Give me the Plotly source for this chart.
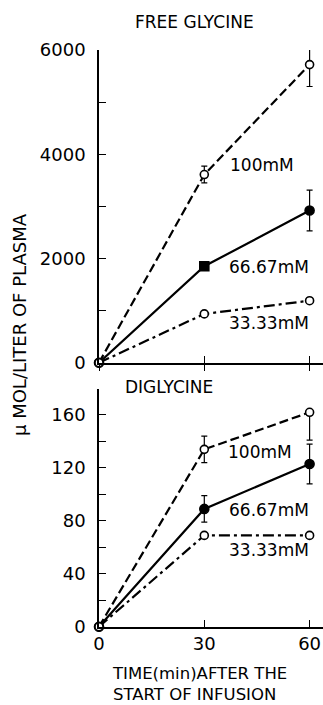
import plotly.graph_objects as go

# ---- data ----
time_min = [0, 30, 60]

free_100 = [0, 3610, 5720]
free_100_err = [0, 160, 420]
free_667 = [0, 1850, 2920]
free_667_err = [0, 0, 390]
free_333 = [0, 936, 1190]

di_100 = [0, 134, 162]
di_100_err_plus = [0, 10, 0]
di_100_err_minus = [0, 10, 21]
di_667 = [0, 89, 123]
di_667_err = [0, 10, 15]
di_333 = [0, 69, 69]

series_labels = ["100mM", "66.67mM", "33.33mM"]
x_ticks = [0, 30, 60]

FONT = "DejaVu Sans"
W, H = 323, 705

fig = go.Figure()

dash_100 = "9px,4px"
dash_333 = "11px,4px,3px,4px"

def add(x, y, xa, ya, dash, symbol, fill, err=None, errm=None, msize=8):
    kw = {}
    if err is not None:
        kw["error_y"] = dict(type="data", array=err,
                             arrayminus=errm if errm is not None else err,
                             symmetric=errm is None, color="black",
                             thickness=1.2, width=3)
    fig.add_trace(go.Scatter(
        x=x, y=y, xaxis=xa, yaxis=ya, mode="lines+markers",
        line=dict(color="black", width=2.2, dash=dash),
        marker=dict(symbol=symbol, size=msize,
                    color="black" if fill else "white",
                    line=dict(color="black", width=1.6)),
        cliponaxis=False, showlegend=False, **kw))

# top panel: free glycine
add(time_min, free_100, "x", "y", dash_100, "circle", False, free_100_err)
add(time_min, free_667, "x", "y", "solid", ["circle", "square", "circle"], True, free_667_err, msize=9)
add(time_min, free_333, "x", "y", dash_333, "circle", False)

# bottom panel: diglycine
add(time_min, di_100, "x2", "y2", dash_100, "circle", False, di_100_err_plus, di_100_err_minus)
add(time_min, di_667, "x2", "y2", "solid", "circle", True, di_667_err, msize=9)
add(time_min, di_333, "x2", "y2", dash_333, "circle", False)

# dummy trace so xaxis3 (crossing ticks on top panel) renders
fig.add_trace(go.Scatter(x=[None], y=[None], xaxis="x3", yaxis="y",
                         showlegend=False, hoverinfo="skip"))

L = 99
xr = [0, (W - L) / 3.51]
top_dom = [1 - 362.7 / H, 1 - 50 / H]
bot_dom = [1 - 626.7 / H, 1 - 388.5 / H]

tickfont = dict(family=FONT, size=18, color="black")
common_x = dict(range=xr, showgrid=False, zeroline=False, showline=True,
                linecolor="black", linewidth=1.5, tickvals=x_ticks,
                ticklen=7, tickcolor="black", tickwidth=1.3, automargin=False)
common_y = dict(showgrid=False, zeroline=False, showline=True,
                linecolor="black", linewidth=1.5, ticks="inside",
                ticklen=7, tickcolor="black", tickwidth=1.3,
                tickfont=tickfont, ticklabelstandoff=8, automargin=False)

fig.update_layout(
    width=W, height=H, autosize=False,
    margin=dict(l=L, r=0, t=0, b=0, pad=0),
    paper_bgcolor="white", plot_bgcolor="white",
    xaxis=dict(domain=[0, 1], anchor="y", ticks="inside",
               showticklabels=False, **common_x),
    xaxis3=dict(domain=[0, 1], anchor="y", overlaying="x", ticks="outside",
                showticklabels=False, **common_x),
    xaxis2=dict(domain=[0, 1], anchor="y2", ticks="inside",
                showticklabels=True, tickfont=tickfont, **common_x),
    yaxis=dict(domain=top_dom, anchor="x", range=[0, 6000],
               tickvals=[0, 2000, 4000, 6000],
               minor=dict(tickvals=[1000, 3000, 5000], ticks="inside",
                          ticklen=7, tickcolor="black", tickwidth=1.3),
               **common_y),
    yaxis2=dict(domain=bot_dom, anchor="x2", range=[0, 180],
                tickvals=[0, 40, 80, 120, 160],
                minor=dict(tickvals=[20, 60, 100, 140, 180], ticks="inside",
                           ticklen=7, tickcolor="black", tickwidth=1.3),
                **common_y),
)

def px_ann(text, x, y, size=17, xanchor="left", textangle=0, align="left"):
    fig.add_annotation(text=text, xref="paper", yref="paper",
                       x=(x - L) / (W - L), y=1 - y / H,
                       xanchor=xanchor, yanchor="middle", showarrow=False,
                       textangle=textangle, align=align, borderpad=0,
                       font=dict(family=FONT, size=size, color="black"))

px_ann("FREE GLYCINE", 194, 22, size=17, xanchor="center")
px_ann("DIGLYCINE", 124, 387, size=17)

# series labels (top)
px_ann(series_labels[0], 229, 165)
px_ann(series_labels[1], 228, 267)
px_ann(series_labels[2], 228, 323)
# series labels (bottom)
px_ann(series_labels[0], 227, 452)
px_ann(series_labels[1], 228, 510)
px_ann(series_labels[2], 228, 550)

px_ann("μ MOL/LITER OF PLASMA", 19, 325, size=18, xanchor="center", textangle=-90)
px_ann("TIME(min)AFTER THE<br>START OF INFUSION", 111, 684, size=16.5)

fig.write_html(
    "out.html",
    config={"displayModeBar": False},
    post_script="document.body.style.margin='0';document.body.style.overflow='hidden';",
)
